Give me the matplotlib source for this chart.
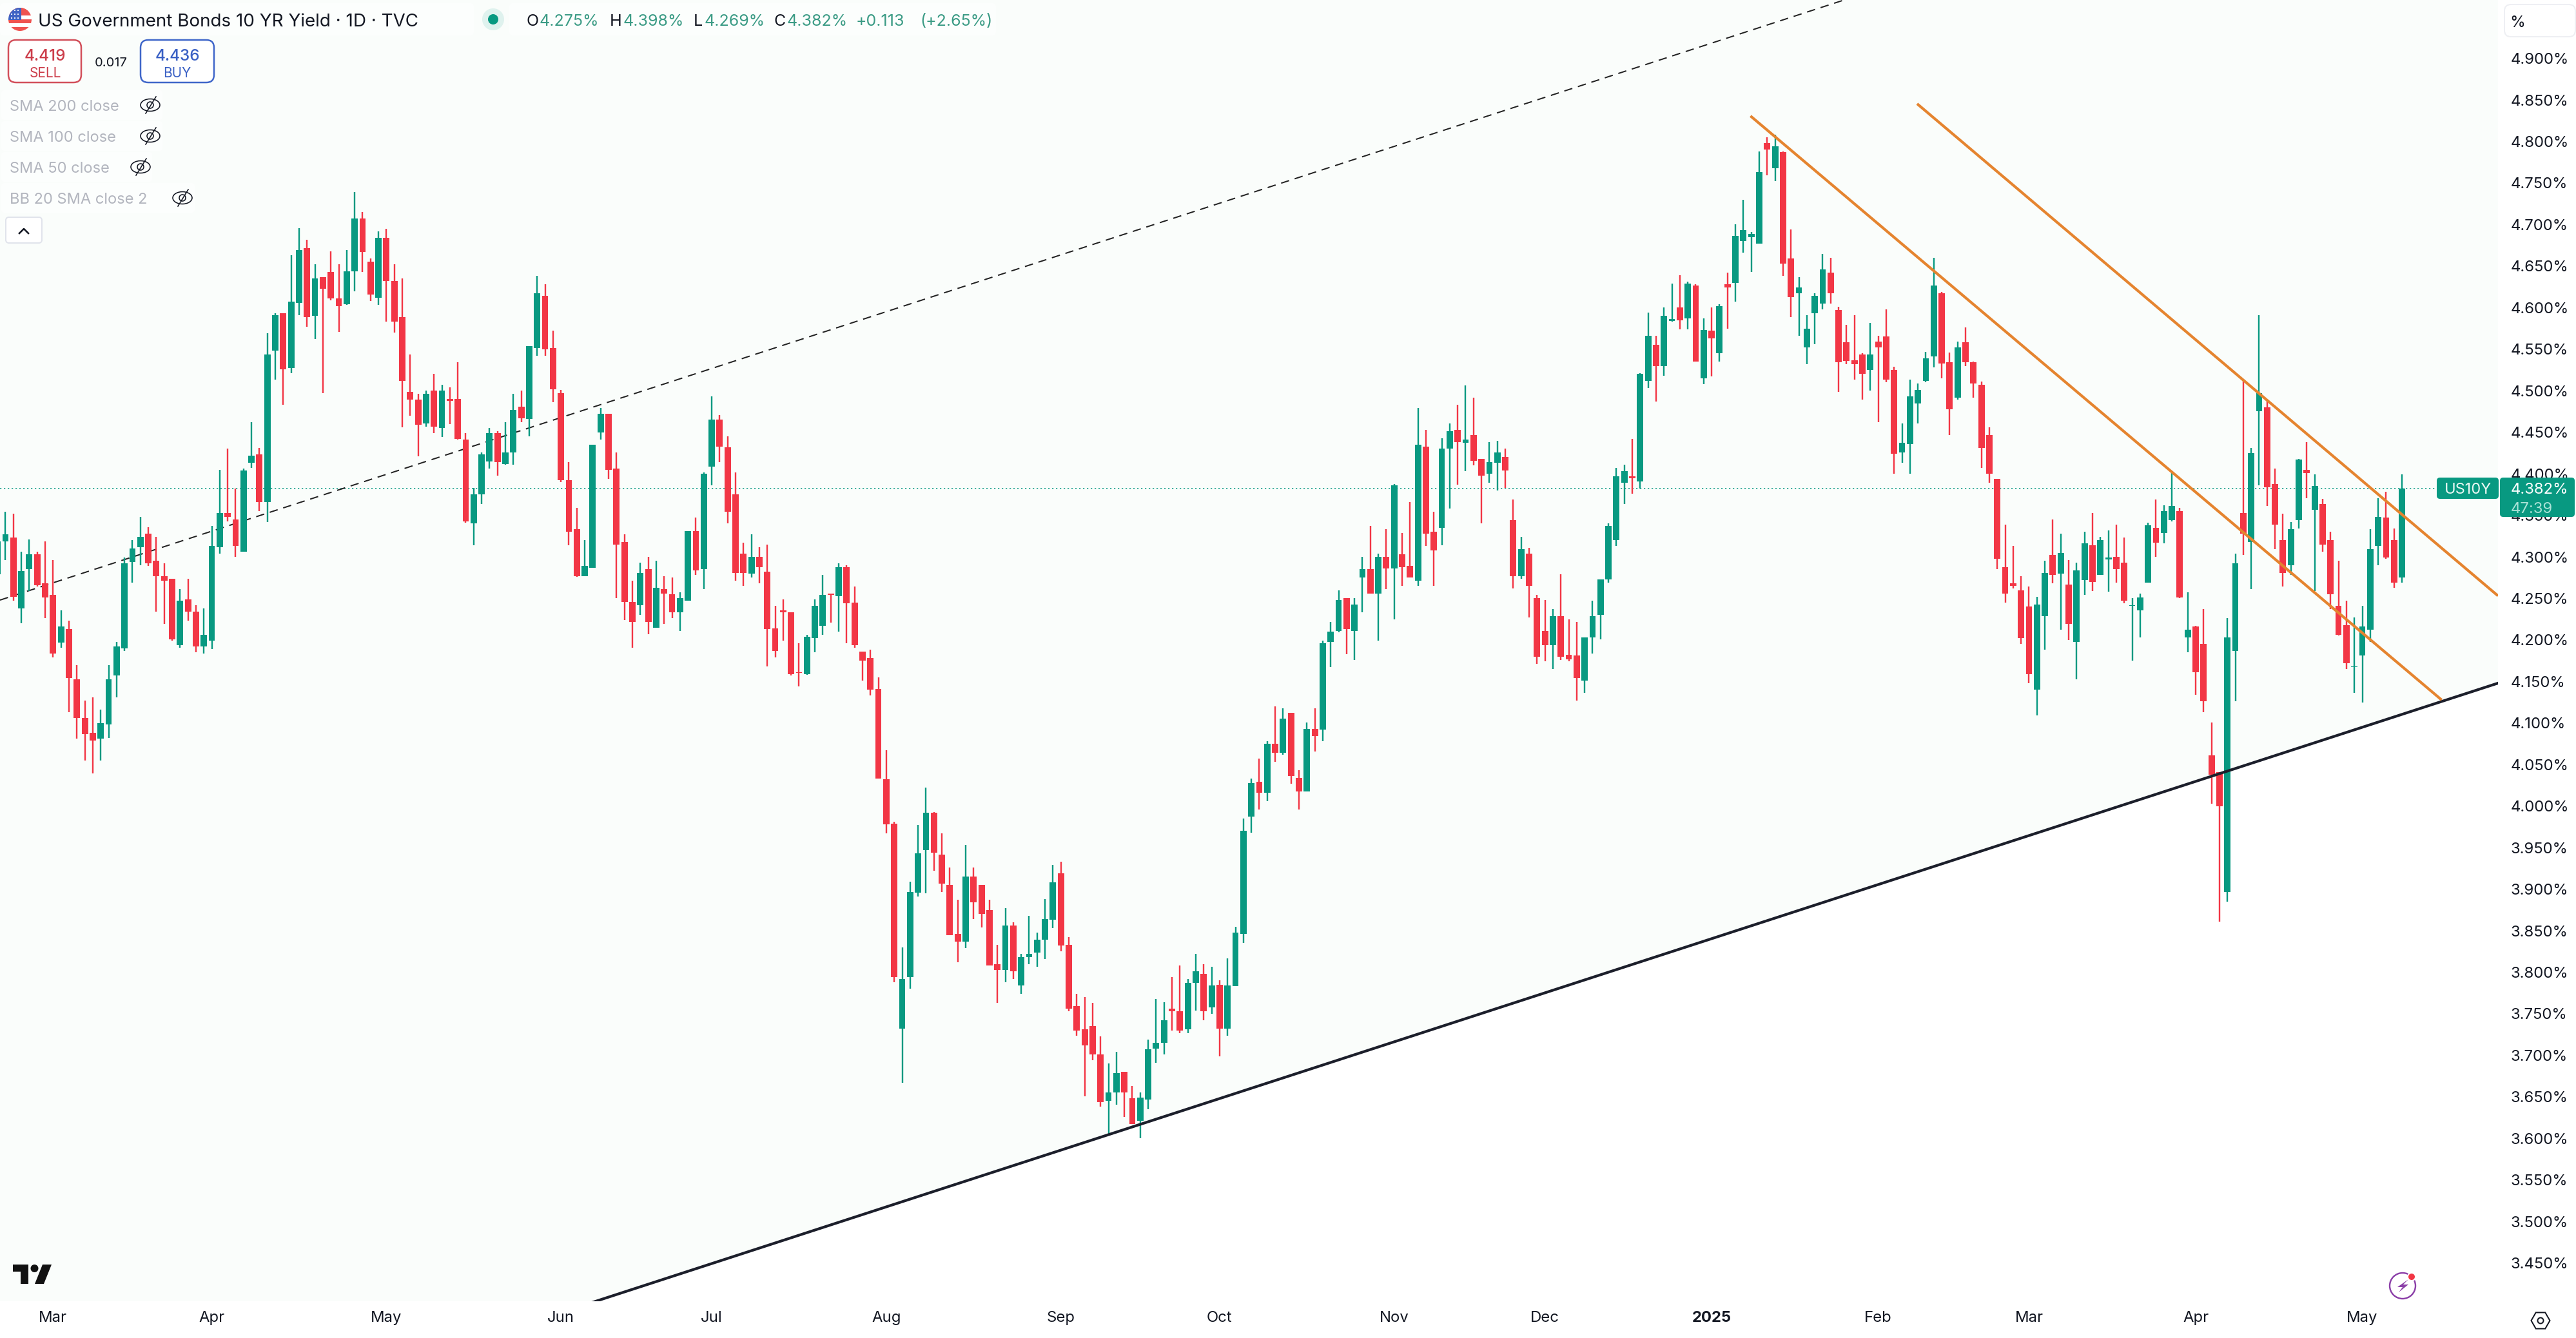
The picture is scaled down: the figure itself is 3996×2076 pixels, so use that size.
import matplotlib
matplotlib.use("Agg")
import matplotlib.pyplot as plt
import numpy as np
from matplotlib.patches import FancyBboxPatch, Circle, Rectangle, Polygon, Ellipse, RegularPolygon

plt.rcParams['font.family'] = ['Inter', 'DejaVu Sans']

open_ = [
4.279,4.319,4.323,4.238,4.285,4.303,4.268,4.254,4.197,4.213,
4.153,4.106,4.088,4.081,4.098,4.157,4.190,4.294,4.312,4.328,
4.295,4.277,4.274,4.194,4.249,4.234,4.192,4.199,4.312,4.353,
4.345,4.306,4.413,4.423,4.366,4.548,4.593,4.527,4.606,4.672,
4.590,4.637,4.643,4.611,4.604,4.644,4.707,4.655,4.612,4.684,
4.632,4.589,4.499,4.489,4.461,4.500,4.455,4.490,4.490,4.441,
4.340,4.375,4.415,4.449,4.412,4.426,4.481,4.466,4.551,4.614,
4.551,4.497,4.392,4.333,4.277,4.287,4.450,4.472,4.406,4.318,
4.246,4.242,4.285,4.215,4.261,4.255,4.233,4.247,4.331,4.285,
4.409,4.465,4.432,4.375,4.304,4.280,4.300,4.282,4.214,4.236,
4.233,4.161,4.159,4.202,4.217,4.256,4.253,4.288,4.245,4.186,
4.178,4.141,4.032,3.979,3.732,3.794,3.896,3.947,3.992,3.942,
3.905,3.846,3.837,3.915,3.905,3.875,3.810,3.803,3.856,3.784,
3.818,3.824,3.839,3.863,3.919,3.833,3.759,3.731,3.735,3.701,
3.645,3.655,3.680,3.648,3.621,3.647,3.708,3.715,3.756,3.753,
3.731,3.787,3.798,3.758,3.785,3.732,3.783,3.846,3.987,4.029,
4.016,4.075,4.064,4.112,4.034,4.018,4.093,4.092,4.198,4.211,
4.250,4.211,4.275,4.285,4.256,4.300,4.286,4.303,4.289,4.271,
4.433,4.330,4.335,4.430,4.453,4.437,4.447,4.418,4.400,4.413,
4.420,4.344,4.277,4.304,4.250,4.211,4.194,4.229,4.182,4.181,
4.151,4.203,4.230,4.273,4.320,4.389,4.397,4.391,4.512,4.555,
4.530,4.584,4.600,4.587,4.627,4.515,4.572,4.545,4.628,4.630,
4.680,4.685,4.677,4.798,4.768,4.787,4.659,4.617,4.552,4.593,
4.605,4.642,4.597,4.558,4.537,4.544,4.525,4.559,4.565,4.525,
4.426,4.436,4.485,4.512,4.541,4.617,4.534,4.492,4.558,4.534,
4.507,4.447,4.394,4.288,4.268,4.260,4.240,4.140,4.229,4.302,
4.280,4.267,4.198,4.272,4.314,4.278,4.297,4.300,4.293,4.241,
4.236,4.269,4.335,4.329,4.344,4.355,4.203,4.216,4.195,4.061,
4.041,3.897,4.187,4.353,4.318,4.475,4.480,4.388,4.320,4.290,
4.344,4.405,4.357,4.364,4.320,4.241,4.218,4.167,4.181,4.212,4.313,4.347,4.320,4.275]

close = [
4.319,4.327,4.252,4.283,4.303,4.266,4.251,4.184,4.216,4.154,
4.106,4.087,4.079,4.100,4.153,4.192,4.292,4.310,4.324,4.292,
4.277,4.271,4.201,4.247,4.234,4.192,4.206,4.313,4.353,4.348,
4.313,4.404,4.422,4.366,4.544,4.591,4.526,4.607,4.669,4.589,
4.635,4.623,4.611,4.602,4.644,4.707,4.667,4.616,4.684,4.632,
4.583,4.512,4.489,4.459,4.496,4.457,4.500,4.488,4.442,4.343,
4.375,4.423,4.449,4.414,4.426,4.477,4.467,4.554,4.617,4.550,
4.502,4.392,4.330,4.277,4.289,4.435,4.472,4.405,4.315,4.246,
4.222,4.281,4.222,4.263,4.256,4.233,4.250,4.331,4.284,4.400,
4.465,4.433,4.354,4.281,4.281,4.300,4.288,4.213,4.187,4.233,
4.159,4.160,4.204,4.241,4.254,4.254,4.288,4.244,4.194,4.175,
4.140,4.033,3.978,3.794,3.792,3.897,3.943,3.992,3.944,3.907,
3.845,3.837,3.915,3.884,3.870,3.808,3.803,3.856,3.801,3.818,
3.822,3.839,3.864,3.908,3.832,3.756,3.730,3.712,3.701,3.644,
3.655,3.679,3.655,3.617,3.649,3.707,3.715,3.742,3.753,3.730,
3.787,3.801,3.753,3.784,3.732,3.784,3.848,3.970,4.028,4.016,
4.075,4.064,4.105,4.036,4.018,4.093,4.084,4.196,4.210,4.248,
4.213,4.243,4.285,4.256,4.300,4.286,4.386,4.288,4.275,4.435,
4.328,4.308,4.430,4.451,4.438,4.441,4.416,4.398,4.414,4.426,
4.404,4.277,4.309,4.265,4.180,4.194,4.229,4.180,4.177,4.154,
4.203,4.229,4.273,4.337,4.397,4.403,4.395,4.520,4.566,4.530,
4.590,4.586,4.585,4.629,4.535,4.573,4.563,4.602,4.624,4.686,
4.693,4.689,4.763,4.790,4.794,4.653,4.613,4.624,4.575,4.614,
4.646,4.617,4.534,4.536,4.532,4.520,4.544,4.552,4.513,4.424,
4.437,4.493,4.501,4.539,4.627,4.533,4.478,4.552,4.534,4.509,
4.431,4.400,4.298,4.256,4.265,4.202,4.159,4.243,4.281,4.278,
4.305,4.219,4.284,4.316,4.270,4.320,4.299,4.285,4.247,4.242,
4.251,4.338,4.317,4.355,4.361,4.251,4.212,4.161,4.126,4.038,
4.000,4.203,4.292,4.328,4.425,4.497,4.384,4.339,4.281,4.333,
4.417,4.401,4.385,4.315,4.255,4.206,4.172,4.168,4.216,4.309,4.348,4.299,4.269,4.382]

high = [
4.335,4.354,4.352,4.306,4.321,4.306,4.319,4.296,4.236,4.223,
4.170,4.127,4.131,4.116,4.170,4.198,4.299,4.320,4.348,4.336,
4.324,4.292,4.274,4.261,4.274,4.242,4.238,4.337,4.405,4.430,
4.382,4.406,4.462,4.431,4.569,4.593,4.593,4.663,4.696,4.682,
4.652,4.637,4.668,4.652,4.669,4.739,4.715,4.659,4.692,4.695,
4.652,4.635,4.544,4.496,4.500,4.520,4.507,4.504,4.534,4.449,
4.383,4.426,4.455,4.451,4.462,4.496,4.500,4.554,4.638,4.628,
4.572,4.501,4.414,4.359,4.320,4.435,4.479,4.472,4.426,4.327,
4.271,4.293,4.300,4.295,4.277,4.275,4.257,4.331,4.347,4.402,
4.493,4.471,4.445,4.402,4.317,4.327,4.312,4.315,4.241,4.249,
4.233,4.196,4.206,4.249,4.278,4.256,4.292,4.290,4.264,4.186,
4.188,4.155,4.067,3.981,3.830,3.909,3.977,4.022,3.993,3.967,
3.926,3.887,3.953,3.926,3.905,3.887,3.833,3.877,3.860,3.822,
3.868,3.848,3.888,3.929,3.933,3.842,3.774,3.770,3.763,3.723,
3.690,3.704,3.680,3.663,3.655,3.719,3.768,3.764,3.794,3.808,
3.792,3.822,3.810,3.807,3.790,3.817,3.855,3.985,4.033,4.057,
4.078,4.120,4.118,4.112,4.043,4.101,4.118,4.199,4.222,4.260,
4.250,4.250,4.300,4.337,4.304,4.333,4.388,4.329,4.366,4.479,
4.453,4.354,4.443,4.461,4.483,4.506,4.492,4.418,4.438,4.440,
4.430,4.369,4.324,4.311,4.254,4.248,4.237,4.279,4.225,4.222,
4.203,4.247,4.273,4.340,4.407,4.411,4.442,4.521,4.594,4.566,
4.600,4.629,4.639,4.631,4.628,4.587,4.600,4.604,4.642,4.700,
4.730,4.691,4.788,4.805,4.808,4.788,4.694,4.637,4.591,4.617,
4.665,4.660,4.601,4.579,4.591,4.545,4.582,4.566,4.598,4.529,
4.461,4.513,4.509,4.547,4.660,4.619,4.546,4.559,4.576,4.535,
4.511,4.456,4.394,4.339,4.313,4.277,4.264,4.252,4.295,4.345,
4.328,4.296,4.293,4.330,4.353,4.324,4.332,4.339,4.323,4.250,
4.256,4.341,4.369,4.362,4.401,4.359,4.257,4.217,4.237,4.101,
4.041,4.226,4.304,4.513,4.431,4.591,4.489,4.406,4.352,4.342,
4.418,4.438,4.399,4.370,4.330,4.295,4.247,4.227,4.241,4.333,4.371,4.378,4.334,4.399]

low = [
4.270,4.296,4.247,4.220,4.259,4.264,4.226,4.179,4.191,4.113,
4.081,4.055,4.039,4.055,4.082,4.131,4.187,4.269,4.290,4.289,
4.234,4.219,4.199,4.191,4.223,4.185,4.184,4.189,4.304,4.343,
4.300,4.306,4.407,4.355,4.342,4.513,4.483,4.521,4.591,4.577,
4.562,4.497,4.609,4.571,4.603,4.620,4.643,4.608,4.603,4.583,
4.570,4.456,4.470,4.421,4.457,4.449,4.444,4.460,4.441,4.341,
4.314,4.364,4.406,4.398,4.411,4.411,4.462,4.445,4.542,4.542,
4.486,4.390,4.314,4.276,4.277,4.287,4.441,4.394,4.250,4.224,
4.191,4.230,4.207,4.215,4.219,4.226,4.211,4.247,4.278,4.261,
4.386,4.414,4.340,4.271,4.265,4.275,4.268,4.168,4.179,4.199,
4.157,4.144,4.158,4.185,4.206,4.221,4.210,4.196,4.191,4.151,
4.133,4.033,3.967,3.788,3.667,3.780,3.891,3.895,3.922,3.897,
3.845,3.812,3.829,3.864,3.854,3.808,3.763,3.788,3.792,3.774,
3.810,3.807,3.816,3.853,3.825,3.753,3.724,3.651,3.694,3.638,
3.606,3.641,3.626,3.617,3.600,3.635,3.691,3.701,3.730,3.727,
3.727,3.754,3.742,3.750,3.699,3.724,3.783,3.835,3.968,3.996,
4.006,4.053,4.062,4.027,3.996,4.018,4.066,4.078,4.167,4.209,
4.183,4.176,4.233,4.256,4.199,4.261,4.225,4.265,4.275,4.265,
4.313,4.265,4.314,4.358,4.387,4.403,4.410,4.340,4.389,4.380,
4.383,4.262,4.274,4.227,4.171,4.174,4.165,4.176,4.174,4.127,
4.136,4.184,4.201,4.269,4.313,4.364,4.376,4.382,4.503,4.487,
4.518,4.583,4.574,4.574,4.535,4.508,4.517,4.535,4.575,4.607,
4.666,4.643,4.677,4.759,4.752,4.638,4.589,4.566,4.532,4.556,
4.598,4.605,4.499,4.532,4.513,4.489,4.500,4.462,4.510,4.400,
4.413,4.400,4.461,4.510,4.528,4.515,4.447,4.489,4.530,4.492,
4.407,4.389,4.285,4.245,4.262,4.195,4.148,4.109,4.188,4.268,
4.212,4.200,4.153,4.254,4.259,4.278,4.258,4.269,4.244,4.175,
4.203,4.269,4.300,4.316,4.343,4.250,4.185,4.134,4.113,4.003,
3.861,3.885,4.126,4.302,4.261,4.386,4.361,4.309,4.264,4.278,
4.334,4.371,4.259,4.306,4.237,4.205,4.165,4.136,4.125,4.198,4.290,4.298,4.263,4.269]

y_ticks = [3.45,3.50,3.55,3.60,3.65,3.70,3.75,3.80,3.85,3.90,3.95,4.00,4.05,4.10,4.15,
           4.20,4.25,4.30,4.35,4.40,4.45,4.50,4.55,4.60,4.65,4.70,4.75,4.80,4.85,4.90]
month_pos = [7,27,49,71,90,112,134,154,176,195,216,237,256,277,298]
month_labels = ['Mar','Apr','May','Jun','Jul','Aug','Sep','Oct','Nov','Dec','2025','Feb','Mar','Apr','May']
last_price = 4.382

support_x = [0.31, 315.1]
support_y = [3.171, 4.148]
mid_x = [0.31, 232.6]
mid_y = [4.248, 4.970]
fall1_x = [220.9, 308.0]
fall1_y = [4.8307, 4.1278]
fall2_x = [241.9, 315.1]
fall2_y = [4.8454, 4.2531]

GREEN = '#089981'
RED = '#f23645'
TINT = '#fafdfb'
INK = '#131722'
ORANGE = '#e5842f'
W, H = 3996, 2076
PX = 0.72  # points per pixel at dpi 100

fig = plt.figure(figsize=(W/100, H/100), dpi=100, facecolor='white')
ax = fig.add_axes([0, (H-2019)/H, 3875/W, 2019/H])
ax.set_xlim(0.31, 315.1)
ax.set_ylim(3.404, 4.9703)
ax.set_facecolor('white')
for s in ax.spines.values():
    s.set_visible(False)

ax.fill_between(support_x, support_y, 4.9703, color=TINT, lw=0, zorder=0)

xs = np.arange(len(open_))
o, c, h, l = map(np.array, (open_, close, high, low))
colors = np.where(c >= o, GREEN, RED)
ax.axhline(last_price, color=GREEN, lw=1.5*PX, dashes=(1.5, 2.5), zorder=1)
ax.plot(mid_x, mid_y, color='#222222', lw=2*PX, dashes=(6.5, 4.5), zorder=1.5)
ax.vlines(xs, l, h, colors=colors, lw=2.4*PX, zorder=2)
ax.bar(xs, np.abs(c-o), bottom=np.minimum(o, c), width=0.8, color=colors, lw=0, zorder=2.1)
ax.plot(support_x, support_y, color='#1c1f2b', lw=4.2*PX, zorder=3)
ax.plot(fall1_x, fall1_y, color=ORANGE, lw=4.2*PX, zorder=3, solid_capstyle='butt')
ax.plot(fall2_x, fall2_y, color=ORANGE, lw=4.2*PX, zorder=3, solid_capstyle='butt')

ax.set_yticks(y_ticks)
ax.set_yticklabels([f'{v:.3f}%' for v in y_ticks], fontsize=17.2, color=INK)
ax.yaxis.tick_right()
ax.tick_params(axis='y', length=0, pad=14.4)
ax.set_xticks(month_pos)
ax.set_xticklabels(month_labels, fontsize=17.2, color=INK)
ax.tick_params(axis='x', length=0, pad=11)
for t, m in zip(ax.get_xticklabels(), month_labels):
    if m == '2025':
        t.set_fontweight('bold')

# Interface chrome, in screen pixels
ui = fig.add_axes([0, 0, 1, 1], facecolor='none')
ui.set_xlim(0, W)
ui.set_ylim(H, 0)
ui.axis('off')

def box(x0, y0, x1, y1, fc, ec='none', lw=0, r=8, alpha=None, z=2):
    ui.add_patch(FancyBboxPatch((x0, y0), x1-x0, y1-y0,
                 boxstyle=f'round,pad=0,rounding_size={r}', fc=fc, ec=ec, lw=lw*PX, alpha=alpha, zorder=z))

def label(x, y, s, color=INK, size=17, ha='left', weight='normal', z=5):
    ui.text(x, y, s, color=color, fontsize=size, ha=ha, va='center_baseline', fontweight=weight, zorder=z)

# header
box(0, 5, 735, 55, 'white', alpha=0.55, r=6, z=1)
box(790, 5, 1545, 55, 'white', alpha=0.55, r=6, z=1)
clip = Circle((31, 30), 18, fc='white', ec='none', zorder=2)
ui.add_patch(clip)
for y0, col in [(12, '#ef5350'), (24, 'white'), (30, '#ef5350'), (36, 'white'), (42, '#ef5350')]:
    p = Rectangle((13, y0), 36, 6 if y0 != 42 else 8, fc=col, ec='none', zorder=2.1)
    ui.add_patch(p); p.set_clip_path(clip)
p = Rectangle((13, 12), 36, 12, fc='#ef5350', ec='none', zorder=2.1)
ui.add_patch(p); p.set_clip_path(clip)
p = Rectangle((13, 12), 20, 19, fc='#3f63c4', ec='none', zorder=2.2)
ui.add_patch(p); p.set_clip_path(clip)
for dy in (16, 22, 28):
    for dx in (18, 23, 28):
        ui.add_patch(Circle((dx, dy), 1.1, fc='white', ec='none', zorder=2.3))
label(59, 31, 'US Government Bonds 10 YR Yield · 1D · TVC', size=20)
ui.add_patch(Ellipse((765, 30), 34, 34, fc='#dff2ee', ec='none', zorder=2))
ui.add_patch(Circle((765, 30), 8, fc=GREEN, ec='none', zorder=3))
HG = '#3b9b85'
for x, s in [(816, 'O'), (946, 'H'), (1076, 'L'), (1201, 'C')]:
    label(x, 31, s, size=18)
for x, s in [(837, '4.275%'), (966, '4.398%'), (1092, '4.269%'), (1221, '4.382%'),
             (1328, '+0.113'), (1427, '(+2.65%)')]:
    label(x, 31, s, color=HG, size=18)

# sell / buy
box(13, 62, 126, 128, 'white', ec='#d24f5a', lw=2.5, r=12)
box(218, 62, 332, 128, 'white', ec='#3f66c9', lw=2.5, r=12)
label(70, 85, '4.419', color='#cc3d4a', size=17.5, ha='center', weight='medium')
label(70, 112, 'SELL', color='#cc3d4a', size=15, ha='center')
label(172, 96, '0.017', size=14.5, ha='center')
label(275, 85, '4.436', color='#3a60c4', size=17.5, ha='center', weight='medium')
label(275, 112, 'BUY', color='#3a60c4', size=15, ha='center')

# hidden indicators
def eye(cx, cy):
    ui.add_patch(Ellipse((cx, cy), 30, 19, fc='none', ec=INK, lw=1.6*PX, zorder=5))
    ui.add_patch(Circle((cx, cy), 5, fc='none', ec=INK, lw=1.6*PX, zorder=5))
    ui.plot([cx-7, cx+9], [cy+13, cy-13], color=INK, lw=1.6*PX, zorder=5)

for y, s, tx, ex in [(163, 'SMA 200 close', 252, 233), (211, 'SMA 100 close', 252, 233),
                     (259, 'SMA 50 close', 236, 218), (307, 'BB 20 SMA close 2', 302, 283)]:
    box(2, y-23, tx, y+23, 'white', alpha=0.5, r=4, z=1)
    label(15, y, s, color='#b2b5be', size=17)
    eye(ex, y)
box(9, 337, 65, 377, 'white', ec='#e0e3eb', lw=2, r=5)
ui.plot([30, 37, 44], [362, 355, 362], color=INK, lw=2.6*PX, zorder=5)

# price scale button and last price labels
box(3885, 7, 3995, 57, 'white', ec='#eeeff3', lw=2, r=10)
label(3893, 33, '%', size=17.5)
box(3780, 741, 3876, 774, GREEN, r=5)
box(3878, 741, 3994, 802, GREEN, r=5)
label(3828, 758, 'US10Y', color='#e8f7f3', size=17, ha='center')
label(3895, 758, '4.382%', color='white', size=17.2)
label(3895, 787, '47:39', color='#a9e2d6', size=17.2)

# logo
ui.add_patch(Polygon([(20, 1962), (44, 1962), (44, 1992), (32, 1992), (32, 1973), (20, 1973)], fc='#111111', ec='none', zorder=5))
ui.add_patch(Circle((53.5, 1968), 6, fc='#111111', ec='none', zorder=5))
ui.add_patch(Polygon([(66, 1962), (80, 1962), (68, 1992), (54, 1992)], fc='#111111', ec='none', zorder=5))

# lightning badge
PURPLE = '#8b3fa8'
ui.add_patch(Circle((3727, 1995), 27, fc='white', ec='none', alpha=0.8, zorder=4))
ui.add_patch(Circle((3727, 1995), 20, fc='none', ec=PURPLE, lw=2.4*PX, zorder=5))
ui.add_patch(Polygon([(3736, 1985), (3719, 1997), (3727, 1997), (3721, 2005), (3736, 1993), (3728, 1993)], fc=PURPLE, ec='none', zorder=5))
ui.add_patch(Circle((3741, 1981), 7, fc='white', ec='none', zorder=5.1))
ui.add_patch(Circle((3741, 1981), 5, fc='#f23645', ec='none', zorder=5.2))

# settings hexagon
ui.add_patch(RegularPolygon((3941, 2049), 6, radius=14.5, orientation=np.pi/6, fc='none', ec=INK, lw=2*PX, zorder=5))
ui.add_patch(Circle((3941, 2049), 4.5, fc='none', ec=INK, lw=2*PX, zorder=5))

fig.savefig('out.png', dpi=100, facecolor='white')
